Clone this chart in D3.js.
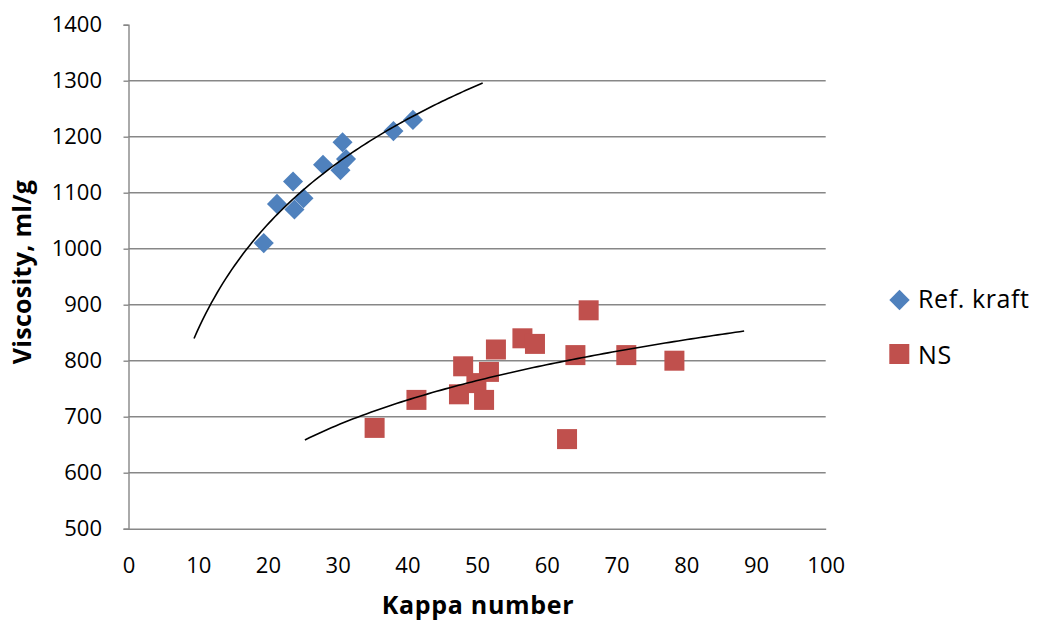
<!DOCTYPE html>
<html>
<head>
<meta charset="utf-8">
<script src="https://cdn.jsdelivr.net/npm/d3@7"></script>
<style>
  html, body { margin: 0; padding: 0; background: #fff; }
  svg { display: block; }
  text { font-family: "Open Sans", Carlito, Calibri, sans-serif; fill: #000; }
</style>
</head>
<body>
<svg id="chart" width="1040" height="621"></svg>
<script>
// Reference kraft pulps: kappa number vs viscosity
const refKappa = [19.4, 21.3, 23.6, 23.8, 25.1, 27.9, 30.7, 31.2, 30.4, 38.0, 40.8];
const refVisc  = [1010, 1080, 1120, 1070, 1090, 1150, 1190, 1160, 1140, 1210, 1230];

// NS pulps
const nsKappa = [35.3, 41.3, 48.0, 47.4, 49.9, 51.0, 51.7, 52.7, 56.5, 58.3, 64.1, 62.9, 66.0, 71.4, 78.3];
const nsVisc  = [680, 730, 790, 740, 760, 730, 780, 820, 840, 830, 810, 660, 890, 810, 800];

const xTicks = [0, 10, 20, 30, 40, 50, 60, 70, 80, 90, 100];
const yTicks = [500, 600, 700, 800, 900, 1000, 1100, 1200, 1300, 1400];

const seriesNames = ["Ref. kraft", "NS"];
const seriesColors = ["#4F81BD", "#C0504D"];

const svg = d3.select("#chart");
const plotLeft = 128.5, plotRight = 825.7, plotTop = 24.7, plotBottom = 528.7;
const FONT = "'Open Sans', Carlito, Calibri, sans-serif";
const GRID = "#878787";

const x = d3.scaleLinear().domain([0, 100]).range([plotLeft, plotRight]);
const y = d3.scaleLinear().domain([500, 1400]).range([plotBottom, plotTop]);

// Horizontal gridlines
svg.append("g")
  .selectAll("line")
  .data(yTicks.filter(v => v > 500 && v < 1400))
  .join("line")
  .attr("x1", plotLeft).attr("x2", plotRight)
  .attr("y1", d => y(d)).attr("y2", d => y(d))
  .attr("stroke", GRID).attr("stroke-width", 1.4);

// Y axis
const yAxis = svg.append("g")
  .attr("transform", `translate(${plotLeft},0)`)
  .call(d3.axisLeft(y).tickValues(yTicks).tickSize(5).tickPadding(21.5).tickFormat(d3.format("d")));
yAxis.select(".domain").attr("stroke", GRID).attr("stroke-width", 1.4);
yAxis.selectAll(".tick line").attr("stroke", GRID).attr("stroke-width", 1.4);
yAxis.selectAll(".tick text").attr("font-size", 22).attr("font-family", FONT).attr("fill", "#000");

// X axis
const xAxis = svg.append("g")
  .attr("transform", `translate(0,${plotBottom})`)
  .call(d3.axisBottom(x).tickValues(xTicks).tickSize(0).tickPadding(28.5).tickFormat(d3.format("d")));
xAxis.select(".domain").attr("stroke", GRID).attr("stroke-width", 1.4);
xAxis.selectAll(".tick text").attr("font-size", 22).attr("font-family", FONT).attr("fill", "#000");

// Axis titles
svg.append("text")
  .attr("x", 478).attr("y", 614)
  .attr("text-anchor", "middle")
  .attr("font-size", 25).attr("font-weight", "bold").attr("letter-spacing", 0.7)
  .text("Kappa number");

svg.append("text")
  .attr("transform", `translate(31,272) rotate(-90)`)
  .attr("text-anchor", "middle")
  .attr("font-size", 25).attr("font-weight", "bold").attr("letter-spacing", 0.3)
  .text("Viscosity, ml/g");

// Logarithmic least-squares trendline, extended 10 units on each side
function logTrend(xs, ys) {
  const lx = xs.map(Math.log);
  const mx = d3.mean(lx), my = d3.mean(ys);
  let sxy = 0, sxx = 0;
  lx.forEach((v, i) => { sxy += (v - mx) * (ys[i] - my); sxx += (v - mx) * (v - mx); });
  const a = sxy / sxx, b = my - a * mx;
  const x0 = d3.min(xs) - 10, x1 = d3.max(xs) + 10;
  return d3.range(0, 101).map(i => {
    const xv = x0 + (x1 - x0) * i / 100;
    return [xv, a * Math.log(xv) + b];
  });
}

const line = d3.line().x(d => x(d[0])).y(d => y(d[1]));

// Markers
const refData = refKappa.map((k, i) => [k, refVisc[i]]);
const nsData = nsKappa.map((k, i) => [k, nsVisc[i]]);

svg.append("g").selectAll("rect")
  .data(refData)
  .join("rect")
  .attr("x", -7.1).attr("y", -7.1).attr("width", 14.2).attr("height", 14.2)
  .attr("transform", d => `translate(${x(d[0])},${y(d[1])}) rotate(45)`)
  .attr("fill", seriesColors[0]);

svg.append("g").selectAll("rect")
  .data(nsData)
  .join("rect")
  .attr("x", d => x(d[0]) - 10).attr("y", d => y(d[1]) - 10)
  .attr("width", 20).attr("height", 20)
  .attr("fill", seriesColors[1]);

// Trendlines
svg.append("path").datum(logTrend(refKappa, refVisc))
  .attr("d", line).attr("fill", "none").attr("stroke", "#000").attr("stroke-width", 1.6);
svg.append("path").datum(logTrend(nsKappa, nsVisc))
  .attr("d", line).attr("fill", "none").attr("stroke", "#000").attr("stroke-width", 1.6);

// Legend
const lg = svg.append("g");
lg.append("rect")
  .attr("x", -7.2).attr("y", -7.2).attr("width", 14.4).attr("height", 14.4)
  .attr("transform", "translate(899.5,300) rotate(45)")
  .attr("fill", seriesColors[0]);
lg.append("text").attr("x", 918).attr("y", 307.7).attr("font-size", 25).attr("letter-spacing", 0.6).text(seriesNames[0]);
lg.append("rect")
  .attr("x", 889.3).attr("y", 344).attr("width", 20).attr("height", 20)
  .attr("fill", seriesColors[1]);
lg.append("text").attr("x", 918).attr("y", 364).attr("font-size", 25).attr("letter-spacing", 0.6).text(seriesNames[1]);
</script>
</body>
</html>
